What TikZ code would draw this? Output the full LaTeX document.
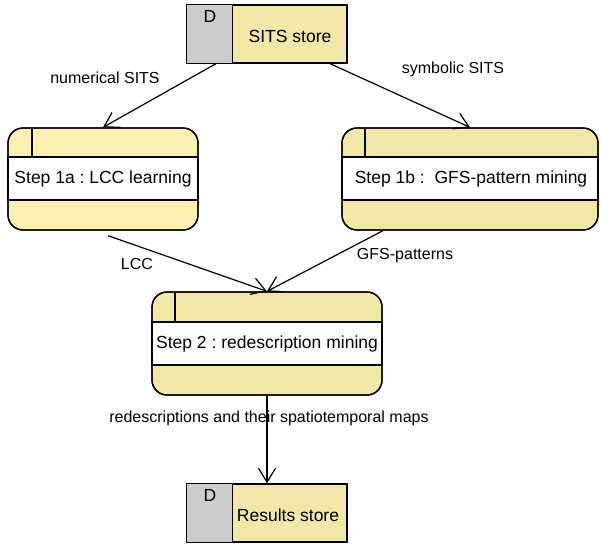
\documentclass[tikz,border=0pt]{standalone}
\usepackage{fontspec}
\setmainfont{Liberation Sans}
\frenchspacing
\usetikzlibrary{arrows.meta,calc}
\definecolor{yelA}{HTML}{FCEFB2}
\definecolor{yelB}{HTML}{F1E7A6}
\definecolor{grayD}{HTML}{CCCCCC}
\tikzset{
  stepbox/.style={draw=black, line width=1.3pt, rounded corners=15pt, inner sep=0pt},
  band/.style={draw=black, line width=1.1pt, fill=white},
  steptext/.style={font=\fontsize{17.5}{20}\selectfont, inner sep=0pt},
  lbl/.style={font=\fontsize{16}{19}\selectfont, inner sep=0pt},
  storebox/.style={draw=black, line width=1.3pt, inner sep=0pt},
  conn/.style={draw=black, line width=1.2pt, -{Straight Barb[length=14pt,width=17pt,line width=1.2pt]}}
}
\begin{document}
\begin{tikzpicture}[x=1pt,y=-1pt]
\useasboundingbox (0,0) rectangle (601,544);
% SITS store
\node[storebox, fill=yelB, minimum width=160pt, minimum height=58pt] (sits) at (267,34) {};
\fill[grayD] (sits.north west) rectangle ($(sits.south west)+(46,0)$);
\draw[line width=1.3pt] ($(sits.north west)+(46,0)$) -- ($(sits.south west)+(46,0)$);
\draw[line width=1.3pt] (sits.north west) rectangle (sits.south east);
\node[steptext] (sitsD) at (210,16) {D};
\node[steptext] (sitsT) at (290,36) {SITS store};
% Step 1a
\node[stepbox, fill=yelA, minimum width=190pt, minimum height=102pt] (s1a) at (103,179) {};
\draw[band] (8,157) rectangle (198,200);
\draw[line width=1.1pt] (32,129) -- (32,157);
\node[stepbox, minimum width=190pt, minimum height=102pt] at (103,179) {};
\node[steptext] (t1a) at (103,179) {Step 1a : LCC learning};
% Step 1b
\node[stepbox, fill=yelB, minimum width=256pt, minimum height=102pt] (s1b) at (470,179) {};
\draw[band] (342,157) rectangle (598,200);
\draw[line width=1.1pt] (365,129) -- (365,157);
\node[stepbox, minimum width=256pt, minimum height=102pt] at (470,179) {};
\node[steptext] (t1b) at (471,179) {Step 1b :\ \ GFS-pattern mining};
% Step 2
\node[stepbox, fill=yelB, minimum width=230pt, minimum height=103pt] (s2) at (267,343.5) {};
\draw[band] (152,322) rectangle (382,365);
\draw[line width=1.1pt] (175,293) -- (175,322);
\node[stepbox, minimum width=230pt, minimum height=103pt] at (267,343.5) {};
\node[steptext] (t2) at (267,344) {Step 2 : redescription mining};
% Results store
\node[storebox, fill=yelB, minimum width=160pt, minimum height=58pt] (res) at (267,513) {};
\fill[grayD] (res.north west) rectangle ($(res.south west)+(46,0)$);
\draw[line width=1.3pt] ($(res.north west)+(46,0)$) -- ($(res.south west)+(46,0)$);
\draw[line width=1.3pt] (res.north west) rectangle (res.south east);
\node[steptext] (resD) at (210,495) {D};
\node[steptext] (resT) at (288,515) {Results store};
% connectors
\draw[conn] ($(sits.south)+(-51,0)$) -- (s1a.north);
\draw[conn] ($(sits.south)+(63,0)$) -- (s1b.north);
\draw[conn] ($(s1a.south)+(5,5)$) -- (s2.north);
\draw[conn] ($(s1b.south)+(-87,0)$) -- (s2.north);
\draw[conn] (s2.south) -- (res.north);
% labels
\node[lbl] (l1) at (105,78) {numerical SITS};
\node[lbl] (l2) at (453,69) {symbolic SITS};
\node[lbl] (l3) at (137,264) {LCC};
\node[lbl] (l4) at (405,256) {GFS-patterns};
\node[lbl] (l5) at (269,418) {redescriptions and their spatiotemporal maps};
\end{tikzpicture}
\end{document}
